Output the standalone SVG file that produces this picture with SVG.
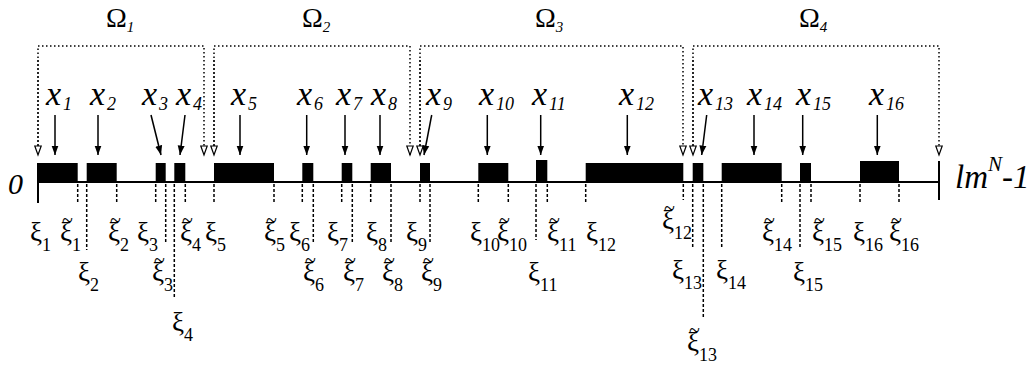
<svg xmlns="http://www.w3.org/2000/svg" width="1031" height="378" viewBox="0 0 1031 378">
<style>
text{font-family:"Liberation Serif","Times New Roman","DejaVu Serif",serif;fill:#000}
.blk{fill:#000}
.xl{font-style:italic;font-size:34px}
.xs{font-size:18px}
.om{font-size:28px}
.oms{font-style:italic;font-size:15px}
.xi{font-size:27px}
.xis{font-size:18px}
.tl{font-size:20px}
.br{fill:none;stroke:#000;stroke-width:1.5;stroke-dasharray:1.5 2.5}
.dl{fill:none;stroke:#000;stroke-width:1.5;stroke-dasharray:3 2}
.ar{fill:none;stroke:#000;stroke-width:1.5}
.ax{fill:none;stroke:#000;stroke-width:2}
.big{font-style:italic;font-size:30px}
.end{font-style:italic;font-size:33px}
</style>
<defs>
<marker id="sol" markerUnits="userSpaceOnUse" markerWidth="10" markerHeight="12" viewBox="0 0 10 12" refX="9.5" refY="5" orient="auto">
<path d="M0,1.5 L9.5,5 L0,8.5 Z" fill="#000" stroke="none"/>
</marker>
<marker id="hol" markerUnits="userSpaceOnUse" markerWidth="12" markerHeight="12" viewBox="0 0 12 12" refX="10" refY="6" orient="auto">
<path d="M1,2.8 L10,6 L1,9.2 Z" fill="#fff" stroke="#000" stroke-width="1.2"/>
</marker>
</defs>

<g id="omega1">
<text class="om" x="106" y="27">Ω<tspan class="oms" dy="5">1</tspan></text>
<polyline class="br" points="38,146 38,46 204,46 204,155" marker-end="url(#hol)"/>
<line class="br" x1="38" y1="60" x2="38" y2="155" marker-end="url(#hol)"/>
</g>
<g id="omega2">
<text class="om" x="302" y="27">Ω<tspan class="oms" dy="5">2</tspan></text>
<polyline class="br" points="214,146 214,46 410,46 410,155" marker-end="url(#hol)"/>
<line class="br" x1="214" y1="60" x2="214" y2="155" marker-end="url(#hol)"/>
</g>
<g id="omega3">
<text class="om" x="535" y="27">Ω<tspan class="oms" dy="5">3</tspan></text>
<polyline class="br" points="420,146 420,46 683,46 683,155" marker-end="url(#hol)"/>
<line class="br" x1="420" y1="60" x2="420" y2="155" marker-end="url(#hol)"/>
</g>
<g id="omega4">
<text class="om" x="799" y="27">Ω<tspan class="oms" dy="5">4</tspan></text>
<polyline class="br" points="693,146 693,46 939,46 939,155" marker-end="url(#hol)"/>
<line class="br" x1="693" y1="60" x2="693" y2="155" marker-end="url(#hol)"/>
</g>

<g id="axis">
<line class="ax" x1="38" y1="182" x2="939" y2="182"/>
<line class="ax" x1="38" y1="163" x2="38" y2="203"/>
<line class="ax" x1="939" y1="161" x2="939" y2="200"/>
<text class="big" x="8" y="194">0</text>
<text class="end" x="955" y="188">lm<tspan font-size="21" dy="-17">N</tspan><tspan dy="17">-1</tspan></text>
</g>

<g id="b1"><rect class="blk" x="38" y="163" width="39.7" height="20"/><text class="xl" x="46" y="105">x<tspan class="xs" dx="2" dy="5">1</tspan></text></g>
<g id="b2"><rect class="blk" x="86.7" y="163" width="30" height="20"/><text class="xl" x="90" y="105">x<tspan class="xs" dx="2" dy="5">2</tspan></text></g>
<g id="b3"><rect class="blk" x="155.7" y="163" width="10" height="20"/><text class="xl" x="142" y="105">x<tspan class="xs" dx="2" dy="5">3</tspan></text></g>
<g id="b4"><rect class="blk" x="174.3" y="163" width="11" height="20"/><text class="xl" x="176" y="105">x<tspan class="xs" dx="2" dy="5">4</tspan></text></g>
<g id="b5"><rect class="blk" x="214" y="163" width="60" height="20"/><text class="xl" x="231" y="105">x<tspan class="xs" dx="2" dy="5">5</tspan></text></g>
<g id="b6"><rect class="blk" x="302.3" y="163" width="11" height="20"/><text class="xl" x="297" y="105">x<tspan class="xs" dx="2" dy="5">6</tspan></text></g>
<g id="b7"><rect class="blk" x="341.7" y="163" width="10.6" height="20"/><text class="xl" x="336" y="105">x<tspan class="xs" dx="2" dy="5">7</tspan></text></g>
<g id="b8"><rect class="blk" x="370.7" y="163" width="20.3" height="20"/><text class="xl" x="371" y="105">x<tspan class="xs" dx="2" dy="5">8</tspan></text></g>
<g id="b9"><rect class="blk" x="420" y="163" width="10" height="20"/><text class="xl" x="426" y="105">x<tspan class="xs" dx="2" dy="5">9</tspan></text></g>
<g id="b10"><rect class="blk" x="478.3" y="163" width="30" height="20"/><text class="xl" x="479" y="105">x<tspan class="xs" dx="2" dy="5">10</tspan></text></g>
<g id="b11"><rect class="blk" x="536" y="160" width="11.3" height="23"/><text class="xl" x="532" y="105">x<tspan class="xs" dx="2" dy="5">11</tspan></text></g>
<g id="b12"><rect class="blk" x="585.7" y="163" width="97.6" height="20"/><text class="xl" x="619" y="105">x<tspan class="xs" dx="2" dy="5">12</tspan></text></g>
<g id="b13"><rect class="blk" x="692.7" y="163" width="10.6" height="20"/><text class="xl" x="698" y="105">x<tspan class="xs" dx="2" dy="5">13</tspan></text></g>
<g id="b14"><rect class="blk" x="721.7" y="163" width="60" height="20"/><text class="xl" x="747" y="105">x<tspan class="xs" dx="2" dy="5">14</tspan></text></g>
<g id="b15"><rect class="blk" x="800" y="163" width="11" height="20"/><text class="xl" x="796" y="105">x<tspan class="xs" dx="2" dy="5">15</tspan></text></g>
<g id="b16"><rect class="blk" x="860" y="161" width="39" height="22"/><text class="xl" x="869" y="105">x<tspan class="xs" dx="2" dy="5">16</tspan></text></g>

<g id="xi-labels">
<text class="xi" x="30" y="241">ξ<tspan class="xis" dy="10">1</tspan></text>
<text class="xi" x="60" y="241">ξ<tspan class="xis" dy="10">1</tspan><tspan class="tl" x="62" y="227">~</tspan></text>
<text class="xi" x="78" y="281">ξ<tspan class="xis" dy="10">2</tspan></text>
<text class="xi" x="108" y="241">ξ<tspan class="xis" dy="10">2</tspan><tspan class="tl" x="110" y="227">~</tspan></text>
<text class="xi" x="137" y="241">ξ<tspan class="xis" dy="10">3</tspan></text>
<text class="xi" x="152" y="281">ξ<tspan class="xis" dy="10">3</tspan><tspan class="tl" x="154" y="267">~</tspan></text>
<text class="xi" x="172" y="331">ξ<tspan class="xis" dy="10">4</tspan></text>
<text class="xi" x="180" y="241">ξ<tspan class="xis" dy="10">4</tspan><tspan class="tl" x="182" y="227">~</tspan></text>
<text class="xi" x="205" y="241">ξ<tspan class="xis" dy="10">5</tspan></text>
<text class="xi" x="264" y="241">ξ<tspan class="xis" dy="10">5</tspan><tspan class="tl" x="266" y="227">~</tspan></text>
<text class="xi" x="289" y="241">ξ<tspan class="xis" dy="10">6</tspan></text>
<text class="xi" x="303" y="281">ξ<tspan class="xis" dy="10">6</tspan><tspan class="tl" x="305" y="267">~</tspan></text>
<text class="xi" x="327" y="241">ξ<tspan class="xis" dy="10">7</tspan></text>
<text class="xi" x="343" y="281">ξ<tspan class="xis" dy="10">7</tspan><tspan class="tl" x="345" y="267">~</tspan></text>
<text class="xi" x="366" y="241">ξ<tspan class="xis" dy="10">8</tspan></text>
<text class="xi" x="382" y="281">ξ<tspan class="xis" dy="10">8</tspan><tspan class="tl" x="384" y="267">~</tspan></text>
<text class="xi" x="406" y="241">ξ<tspan class="xis" dy="10">9</tspan></text>
<text class="xi" x="421" y="281">ξ<tspan class="xis" dy="10">9</tspan><tspan class="tl" x="423" y="267">~</tspan></text>
<text class="xi" x="470" y="241">ξ<tspan class="xis" dy="10">10</tspan></text>
<text class="xi" x="497" y="241">ξ<tspan class="xis" dy="10">10</tspan><tspan class="tl" x="499" y="227">~</tspan></text>
<text class="xi" x="528" y="281">ξ<tspan class="xis" dy="10">11</tspan></text>
<text class="xi" x="547" y="241">ξ<tspan class="xis" dy="10">11</tspan><tspan class="tl" x="549" y="227">~</tspan></text>
<text class="xi" x="586" y="241">ξ<tspan class="xis" dy="10">12</tspan></text>
<text class="xi" x="662" y="229">ξ<tspan class="xis" dy="10">12</tspan><tspan class="tl" x="664" y="215">~</tspan></text>
<text class="xi" x="672" y="279">ξ<tspan class="xis" dy="10">13</tspan></text>
<text class="xi" x="687" y="351">ξ<tspan class="xis" dy="10">13</tspan><tspan class="tl" x="689" y="337">~</tspan></text>
<text class="xi" x="716" y="279">ξ<tspan class="xis" dy="10">14</tspan></text>
<text class="xi" x="762" y="241">ξ<tspan class="xis" dy="10">14</tspan><tspan class="tl" x="764" y="227">~</tspan></text>
<text class="xi" x="793" y="281">ξ<tspan class="xis" dy="10">15</tspan></text>
<text class="xi" x="812" y="241">ξ<tspan class="xis" dy="10">15</tspan><tspan class="tl" x="814" y="227">~</tspan></text>
<text class="xi" x="853" y="241">ξ<tspan class="xis" dy="10">16</tspan></text>
<text class="xi" x="889" y="241">ξ<tspan class="xis" dy="10">16</tspan><tspan class="tl" x="891" y="227">~</tspan></text>
</g>

<g id="connectors">
<line class="ar" x1="55" y1="115" x2="55" y2="155" marker-end="url(#sol)"/>
<line class="ar" x1="98" y1="115" x2="98" y2="155" marker-end="url(#sol)"/>
<line class="ar" x1="151" y1="115" x2="161" y2="155" marker-end="url(#sol)"/>
<line class="ar" x1="185" y1="115" x2="180" y2="155" marker-end="url(#sol)"/>
<line class="ar" x1="240" y1="115" x2="240" y2="155" marker-end="url(#sol)"/>
<line class="ar" x1="306.7" y1="115" x2="306.7" y2="155" marker-end="url(#sol)"/>
<line class="ar" x1="345" y1="115" x2="345" y2="155" marker-end="url(#sol)"/>
<line class="ar" x1="380" y1="115" x2="380" y2="155" marker-end="url(#sol)"/>
<line class="ar" x1="431.7" y1="115" x2="424" y2="155" marker-end="url(#sol)"/>
<line class="ar" x1="487.3" y1="115" x2="487.3" y2="155" marker-end="url(#sol)"/>
<line class="ar" x1="540.7" y1="115" x2="540.7" y2="155" marker-end="url(#sol)"/>
<line class="ar" x1="627.3" y1="115" x2="627.3" y2="155" marker-end="url(#sol)"/>
<line class="ar" x1="706.7" y1="115" x2="701.7" y2="155" marker-end="url(#sol)"/>
<line class="ar" x1="754" y1="115" x2="754" y2="155" marker-end="url(#sol)"/>
<line class="ar" x1="802.7" y1="115" x2="802.7" y2="155" marker-end="url(#sol)"/>
<line class="ar" x1="877.3" y1="115" x2="877.3" y2="155" marker-end="url(#sol)"/>

<path class="dl" d="M77.7,184V203 M86.7,184V250 M116.7,184V203 M155.7,184V203 M165.7,184V242 M174.3,184V297 M185.3,184V203 M214,184V203 M274,184V203 M302.3,184V203 M313.3,184V242 M341.7,184V203 M352.3,184V242 M370.7,184V203 M391,184V242 M420,184V203 M430,184V242 M478.3,184V203 M508.3,184V203 M536,184V240 M547.3,184V203 M585.7,184V203 M683.3,184V200 M692.7,184V247 M703.3,184V318 M721.7,184V248 M781.7,184V203 M800,184V247 M811,184V203 M860,184V203 M899,184V203"/>
</g>
</svg>
